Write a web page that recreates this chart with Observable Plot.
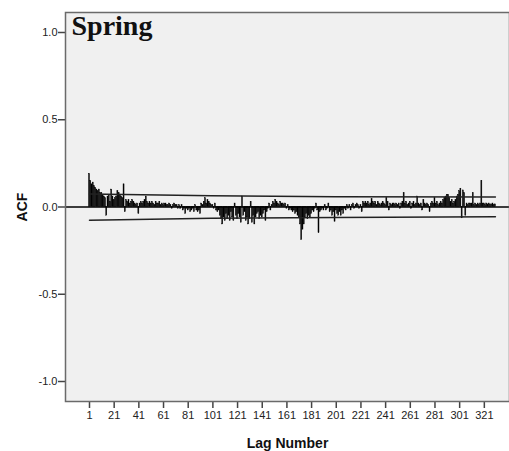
<!DOCTYPE html>
<html>
<head>
<meta charset="utf-8">
<script src="https://cdn.jsdelivr.net/npm/d3@7"></script>
<script src="https://cdn.jsdelivr.net/npm/@observablehq/plot@0.6"></script>
<style>
  html, body { margin: 0; padding: 0; background: #ffffff; }
  #wrap { width: 509px; height: 451px; overflow: hidden; }
  #wrap svg { max-width: none !important; }
</style>
</head>
<body>
<div id="wrap"></div>
<script>
// ACF values for lags 1..330
const acfValues = [
  0.19, 0.15, 0.13, 0.14, 0.12, 0.11, 0.10, 0.09, 0.10, 0.08,
  0.08, 0.07, 0.06, 0.05, -0.05, 0.06, 0.07, 0.03, 0.10, 0.06,
  0.04, 0.05, 0.06, 0.09, 0.08, 0.07, 0.06, 0.05, 0.13, -0.03,
  0.04, 0.03, 0.04, 0.02, 0.03, 0.04, 0.03, 0.02, 0.01, 0.02,
  -0.04, 0.02, 0.03, 0.02, 0.03, 0.04, 0.06, 0.03, 0.02, 0.03,
  0.02, 0.03, 0.02, 0.01, 0.03, 0.02, 0.02, 0.03, 0.01, 0.02,
  0.01, 0.02, 0.02, 0.01, 0.01, 0.02, 0.01, -0.01, 0.01, 0.02,
  0.01, 0.01, -0.01, 0.01, -0.01, 0.01, -0.02, -0.01, -0.04, -0.01,
  -0.02, -0.01, -0.03, -0.02, -0.01, -0.03, 0.01, -0.02, -0.03, -0.02,
  -0.04, 0.02, 0.01, 0.03, 0.05, 0.02, 0.04, 0.03, 0.02, 0.01,
  0.01, -0.01, 0.02, -0.02, -0.03, -0.02, -0.05, -0.07, -0.10, -0.06,
  -0.08, -0.04, -0.07, -0.05, -0.08, -0.03, -0.06, -0.08, 0.02, -0.05,
  -0.07, -0.04, -0.06, -0.09, 0.06, -0.05, -0.03, -0.08, -0.06, -0.10,
  -0.07, 0.03, -0.09, -0.05, -0.10, -0.06, -0.04, -0.03, -0.07, -0.05,
  -0.06, -0.04, -0.02, -0.08, -0.03, -0.01, 0.02, -0.02, 0.01, 0.03,
  0.02, 0.04, 0.03, 0.02, 0.01, 0.03, 0.02, 0.02, 0.01, 0.02,
  -0.01, 0.01, -0.02, -0.01, -0.02, -0.03, -0.02, -0.04, -0.03, -0.05,
  -0.06, -0.10, -0.19, -0.13, -0.10, -0.06, -0.04, -0.07, -0.05, -0.06,
  -0.04, -0.02, -0.03, -0.01, 0.02, -0.02, -0.15, -0.03, -0.02, -0.01,
  -0.02, 0.01, -0.02, -0.01, 0.02, -0.03, -0.02, -0.05, -0.03, -0.085,
  -0.02, -0.04, -0.05, -0.03, -0.05, -0.02, -0.04, -0.01, -0.02, 0.01,
  -0.01, 0.01, -0.02, 0.01, 0.02, -0.01, 0.01, 0.02, 0.01, -0.01,
  0.01, -0.03, 0.03, 0.02, 0.03, 0.02, 0.03, 0.01, 0.02, 0.045,
  0.03, 0.02, 0.03, 0.01, 0.03, 0.02, 0.01, 0.02, 0.03, 0.02,
  0.01, 0.05, 0.03, -0.02, 0.02, 0.01, 0.02, 0.02, 0.01, 0.02,
  0.01, 0.02, -0.01, 0.02, 0.03, 0.08, 0.02, 0.03, 0.01, 0.02,
  0.03, -0.01, 0.02, 0.03, 0.01, 0.02, 0.06, 0.02, 0.01, 0.02,
  -0.02, 0.04, 0.02, 0.01, 0.02, 0.01, -0.03, 0.02, 0.03, 0.02,
  0.05, 0.02, 0.03, 0.01, 0.02, 0.03, 0.02, 0.04, 0.05, 0.06,
  0.07, 0.07, 0.05, 0.03, 0.04, 0.02, 0.03, 0.04, 0.06, 0.07,
  0.09, 0.105, -0.065, 0.095, 0.08, -0.05, 0.02, 0.01, 0.02, 0.02,
  0.02, 0.08, 0.01, 0.02, 0.01, 0.02, 0.01, 0.02, 0.15, 0.02,
  0.02, 0.01, 0.02, 0.015, 0.02, 0.01, 0.015, 0.02, 0.01, 0.015
];

// Confidence limits (vertices)
const confLags = [1, 100, 200, 330];
const upperLimit = [0.074, 0.064, 0.059, 0.058];
const lowerLimit = [-0.076, -0.064, -0.060, -0.056];

const xTicks = [1, 21, 41, 61, 81, 101, 121, 141, 161, 181, 201, 221, 241, 261, 281, 301, 321];
const yTicks = [-1.0, -0.5, 0.0, 0.5, 1.0];
const titleText = "Spring";
const xLabel = "Lag Number";
const yLabel = "ACF";

const acfData = acfValues.map((v, i) => ({lag: i + 1, acf: v}));
const upperData = confLags.map((l, i) => ({lag: l, v: upperLimit[i]}));
const lowerData = confLags.map((l, i) => ({lag: l, v: lowerLimit[i]}));

const chart = Plot.plot({
  width: 513,
  height: 451,
  marginLeft: 65,
  marginTop: 12,
  marginRight: 4,
  marginBottom: 50,
  style: {fontFamily: "'Liberation Sans', Arial, sans-serif", fontSize: "11px", color: "#222", background: "#ffffff", maxWidth: "none"},
  x: {domain: [-18.45, 341.4], ticks: xTicks},
  y: {domain: [-1.1146, 1.1146], ticks: yTicks},
  marks: [
    Plot.frame({fill: "#f0f0f0", stroke: null}),
    Plot.rectY(acfData, {x1: d => d.lag - 0.42, x2: d => d.lag + 0.42, y: "acf", fill: "#000", stroke: "#000", strokeWidth: 0.4}),
    Plot.ruleY([0], {stroke: "#000", strokeWidth: 1.3}),
    Plot.line(upperData, {x: "lag", y: "v", stroke: "#222", strokeWidth: 1.5}),
    Plot.line(lowerData, {x: "lag", y: "v", stroke: "#222", strokeWidth: 1.5}),
    Plot.axisY({ticks: yTicks, tickFormat: d => d.toFixed(1), tickSize: 7, tickPadding: 1, label: null, stroke: "#444", strokeWidth: 1.5}),
    Plot.axisX({ticks: xTicks, tickFormat: d => String(d), tickSize: 7, tickPadding: 3, label: null, stroke: "#444", strokeWidth: 1.5}),
    Plot.frame({stroke: "#6a6a6a", strokeWidth: 1.5}),
    Plot.text([titleText], {frameAnchor: "top-left", textAnchor: "start", lineAnchor: "top", dx: 6, dy: 3, fontSize: 28, fontWeight: "bold", fontFamily: "'Liberation Serif', 'DejaVu Serif', serif", fill: "#111"}),
    Plot.text([xLabel], {frameAnchor: "bottom", lineAnchor: "bottom", dy: 46, fontSize: 14, fontWeight: "bold", fill: "#111"}),
    Plot.text([yLabel], {frameAnchor: "left", rotate: -90, textAnchor: "middle", lineAnchor: "middle", dx: -43, fontSize: 14, fontWeight: "bold", fill: "#111"})
  ]
});
document.getElementById("wrap").appendChild(chart);
</script>
</body>
</html>
